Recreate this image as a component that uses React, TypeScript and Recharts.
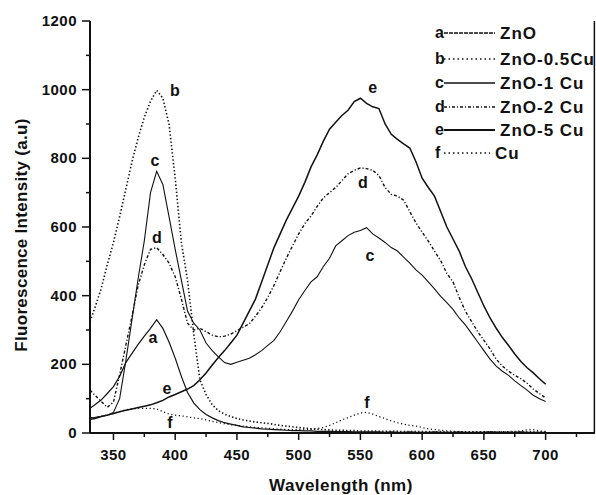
import React from 'react';
import { LineChart, Line, XAxis, YAxis, Legend, ReferenceDot, ReferenceLine } from 'recharts';

const wavelengths = [331,335,340,345,350,355,360,365,370,375,380,385,390,395,400,405,410,415,420,425,430,435,440,445,450,455,460,465,470,475,480,485,490,495,500,505,510,515,520,525,530,535,540,545,550,555,560,565,570,575,580,585,590,595,600,605,610,615,620,625,630,635,640,645,650,655,660,665,670,675,680,685,690,695,700];

const seriesA = [72,82,96,115,135,165,205,232,258,282,305,330,305,265,218,
165,118,88,68,54,44,36,30,26,22,18,16,14,12,11,10,9,8,7,7,
6,6,5,5,5,4,4,4,3,3,3,3,3,2,3,2,2,3,2,2,
2,3,2,2,2,3,2,2,2,2,3,2,2,2,2,3,2,2,2,2];

const seriesB = [325,365,420,490,555,630,710,790,860,920,966,998,975,900,742,
555,445,290,155,112,82,65,55,48,42,38,35,32,30,28,25,22,20,18,16,
14,12,11,10,9,8,8,7,7,6,6,6,5,5,5,5,4,4,4,4,
4,3,4,3,3,4,3,3,3,3,3,3,3,3,3,3,3,3,3,3];

const seriesC = [45,46,48,52,60,100,210,330,450,560,700,762,724,630,535,
445,355,320,300,262,240,222,205,200,206,212,218,228,240,255,270,295,325,355,388,
415,440,455,485,509,545,560,575,585,590,598,580,568,555,540,530,512,495,475,460,
440,420,398,380,360,335,315,290,265,240,215,195,180,168,152,138,125,110,100,92];

const seriesD = [125,110,92,75,90,170,255,340,430,490,535,540,520,495,455,
390,320,300,305,295,285,280,282,288,298,308,318,340,365,395,430,470,509,545,580,
610,632,660,685,700,715,735,755,765,772,770,765,750,715,695,690,678,645,612,585,
559,530,502,465,440,395,355,325,295,270,245,215,195,180,168,158,145,128,115,102];

const seriesE = [40,42,48,52,57,62,66,70,74,78,82,88,95,105,112,
120,128,138,155,175,198,220,240,262,285,320,355,390,440,490,540,580,620,655,690,
730,775,810,850,885,905,925,940,965,975,960,950,945,900,870,855,842,830,790,742,
715,690,645,600,565,530,485,450,410,370,335,305,278,255,230,208,190,175,158,142];

const seriesF = [42,45,48,52,57,62,68,70,72,72,72,70,62,55,52,
50,47,44,42,38,34,30,27,24,22,20,18,16,15,14,12,11,10,10,10,
10,11,13,16,22,30,38,45,52,58,60,55,48,42,35,30,26,22,20,16,
12,10,8,6,5,4,4,4,4,4,4,4,4,4,5,6,9,10,6,4];

const xTicks = [350,375,400,425,450,475,500,525,550,575,600,625,650,675,700,725];
const yTicks = [0,100,200,300,400,500,600,700,800,900,1000,1100,1200];

const seriesNames = ['ZnO', 'ZnO-0.5Cu', 'ZnO-1 Cu', 'ZnO-2 Cu', 'ZnO-5 Cu', 'Cu'];
const seriesLetters = ['a', 'b', 'c', 'd', 'e', 'f'];

const curveLabels = [
  { text: 'b', x: 399.8, y: 999 },
  { text: 'c', x: 383.6, y: 795 },
  { text: 'd', x: 385.2, y: 568 },
  { text: 'a', x: 382, y: 277 },
  { text: 'e', x: 393.3, y: 131 },
  { text: 'f', x: 395.8, y: 32 },
  { text: 'e', x: 560, y: 1005 },
  { text: 'd', x: 552, y: 731 },
  { text: 'c', x: 557.7, y: 518 },
  { text: 'f', x: 555.3, y: 90 },
];

const rows = wavelengths.map((w, i) => ({
  w,
  a: seriesA[i],
  b: seriesB[i],
  c: seriesC[i],
  d: seriesD[i],
  e: seriesE[i],
  f: seriesF[i],
}));

const FONT = '"Liberation Sans", Arial, Helvetica, sans-serif';
const INK = '#111';

const styles = [
  { key: 'a', dash: undefined, width: 1.2, legendDash: '4 1' },
  { key: 'b', dash: '1.4 2.2', width: 1.6, legendDash: '1.5 3' },
  { key: 'c', dash: undefined, width: 1.1, legendDash: undefined },
  { key: 'd', dash: '3 2 1.2 2', width: 1.4, legendDash: '3 2 1 2' },
  { key: 'e', dash: undefined, width: 1.5, legendDash: undefined },
  { key: 'f', dash: '1.2 2.6', width: 1.3, legendDash: '1.5 3' },
];

const XTick = (props: any) => {
  const { x, y, payload } = props;
  const v = payload.value;
  const major = v % 50 === 0;
  return (
    <g>
      <line x1={x} y1={y} x2={x} y2={y + (major ? 7 : 4)} stroke={INK} strokeWidth={1.5} />
      {major && v <= 700 ? (
        <text x={x} y={y + 27} textAnchor="middle" fontFamily={FONT} fontWeight="bold" fontSize={15} letterSpacing={0.5} fill={INK}>
          {v}
        </text>
      ) : null}
    </g>
  );
};

const YTick = (props: any) => {
  const { x, y, payload } = props;
  const v = payload.value;
  const major = v % 200 === 0;
  return (
    <g>
      <line x1={x} y1={y} x2={x - (major ? 8 : 4)} y2={y} stroke={INK} strokeWidth={1.5} />
      {major ? (
        <text x={x - 13} y={y + 5} textAnchor="end" fontFamily={FONT} fontWeight="bold" fontSize={15} letterSpacing={0.5} fill={INK}>
          {v}
        </text>
      ) : null}
    </g>
  );
};

const rowY = [13, 39, 63, 87, 110, 133];

const LegendContent = () => (
  <svg width={166} height={150} style={{ display: 'block' }}>
    {styles.map((s, i) => {
      const lineEnd = s.key === 'f' ? 60 : 65;
      const textX = s.key === 'f' ? 65 : 70;
      return (
        <g key={s.key}>
          <text x={5} y={rowY[i] + 5} fontFamily={FONT} fontWeight="bold" fontSize={16} fill={INK}>
            {seriesLetters[i]}
          </text>
          <line x1={14} y1={rowY[i]} x2={lineEnd} y2={rowY[i]} stroke={INK} strokeWidth={s.key === 'e' ? 2 : 1.3} strokeDasharray={s.legendDash} />
          <text x={textX} y={rowY[i] + 6} fontFamily={FONT} fontWeight="bold" fontSize={17} letterSpacing={1} fill={INK}>
            {seriesNames[i]}
          </text>
        </g>
      );
    })}
  </svg>
);

export default function App() {
  return (
    <div style={{ position: 'absolute', left: 0, top: 0, width: 596, height: 495, background: '#fff' }}>
      <LineChart width={596} height={495} data={rows} margin={{ top: 21, right: 1, bottom: 0, left: 0 }}>
        <XAxis
          dataKey="w"
          type="number"
          domain={[331, 740]}
          ticks={xTicks}
          interval={0}
          height={62}
          tickSize={0}
          tickMargin={0}
          tick={<XTick />}
          axisLine={{ stroke: INK, strokeWidth: 2 }}
          tickLine={false}
          allowDataOverflow
        />
        <XAxis xAxisId="top" orientation="top" dataKey="w" type="number" domain={[331, 740]} height={0} tick={false} tickLine={false} axisLine={{ stroke: INK, strokeWidth: 2 }} />
        <YAxis
          type="number"
          domain={[0, 1200]}
          ticks={yTicks}
          interval={0}
          width={90}
          tickSize={0}
          tickMargin={0}
          tick={<YTick />}
          axisLine={{ stroke: INK, strokeWidth: 2 }}
          tickLine={false}
          allowDataOverflow
        />
        <ReferenceLine x={739.5} stroke={INK} strokeWidth={1.5} ifOverflow="visible" />
        {styles.map((s) => (
          <Line
            key={s.key}
            dataKey={s.key}
            type="linear"
            stroke={INK}
            strokeWidth={s.width}
            strokeDasharray={s.dash}
            dot={false}
            activeDot={false}
            isAnimationActive={false}
          />
        ))}
        {curveLabels.map((l, i) => (
          <ReferenceDot
            key={i}
            x={l.x}
            y={l.y}
            r={0}
            ifOverflow="visible"
            shape={(p: any) => (
              <text x={p.cx} y={p.cy} textAnchor="middle" dominantBaseline="central" fontFamily={FONT} fontWeight="bold" fontSize={16} fill={INK}>
                {l.text}
              </text>
            )}
          />
        ))}
        <Legend
          layout="horizontal"
          verticalAlign="middle"
          align="center"
          content={<LegendContent />}
          wrapperStyle={{ position: 'absolute', left: 430, top: 20, width: 166, height: 150 }}
        />
      </LineChart>
      <svg width={596} height={495} style={{ position: 'absolute', left: 0, top: 0, pointerEvents: 'none' }}>
        <text x={341} y={491} textAnchor="middle" fontFamily={FONT} fontWeight="bold" fontSize={17} letterSpacing={0.5} fill={INK}>
          Wavelength (nm)
        </text>
        <text x={27} y={235} transform="rotate(-90 27 235)" textAnchor="middle" fontFamily={FONT} fontWeight="bold" fontSize={17} letterSpacing={0.3} fill={INK}>
          Fluorescence Intensity (a.u)
        </text>
      </svg>
    </div>
  );
}
